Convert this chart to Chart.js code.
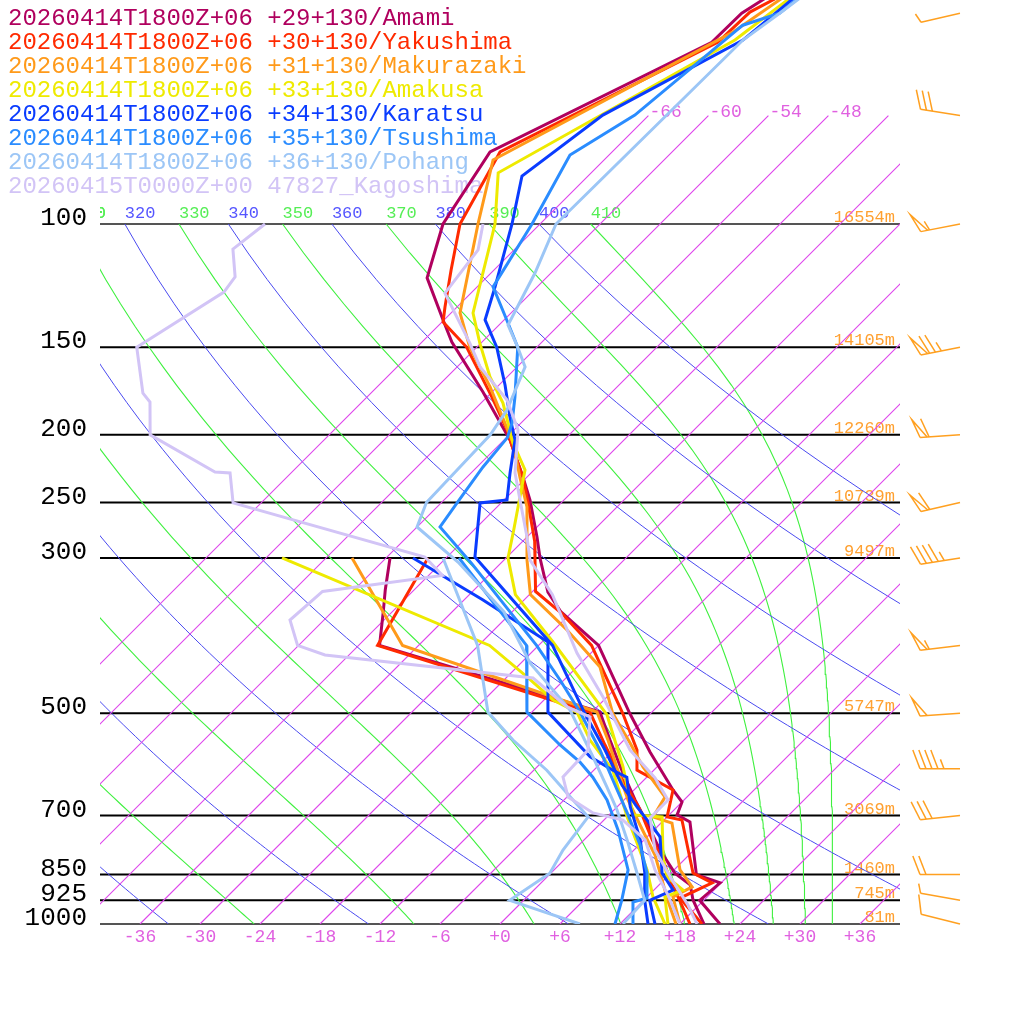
<!DOCTYPE html>
<html>
<head>
<meta charset="utf-8">
<script src="https://cdn.jsdelivr.net/npm/chart.js@4.4.1/dist/chart.umd.min.js"></script>
<style>
  html, body { margin: 0; padding: 0; background: #fff; }
  canvas { display: block; }
</style>
</head>
<body>
<canvas id="skewt" width="1024" height="1024"></canvas>
<script>
// legend / station info
const stationLabels = [
  "20260414T1800Z+06 +29+130/Amami",
  "20260414T1800Z+06 +30+130/Yakushima",
  "20260414T1800Z+06 +31+130/Makurazaki",
  "20260414T1800Z+06 +33+130/Amakusa",
  "20260414T1800Z+06 +34+130/Karatsu",
  "20260414T1800Z+06 +35+130/Tsushima",
  "20260414T1800Z+06 +36+130/Pohang",
  "20260415T0000Z+00 47827_Kagoshima",
];
const stationColors = ["#b0005e", "#ff2a00", "#ff9a1a", "#eeea00", "#0a3cff", "#2a8cff", "#9cc6f6", "#d2c4f6"];

// temperature (degC) and dew point profiles, pressure in hPa
const amamiTempP = [46.6, 50, 55, 78.9, 100, 119.4, 137.1, 147.5, 173.8, 203.5, 229.9, 247.9, 280, 300, 335.6, 358.3, 400, 500, 567.9, 643.5, 669.4, 698.5, 715.1, 850, 873.5, 925, 1000];
const amamiTemp = [-65.7, -66.9, -67.0, -78.2, -75.7, -71.9, -66.1, -63.0, -54.9, -47.4, -42.4, -39.4, -35.0, -32.6, -28.4, -25.1, -18.0, -8.1, -2.2, 3.9, 6.0, 6.8, 8.8, 14.7, 17.9, 17.6, 22.0];
const amamiDewP = [300, 333, 358, 400, 498, 546, 603, 665, 722, 784, 846, 879, 924, 1000];
const amamiDew = [-47.6, -44.9, -42.9, -39.9, -11.2, -7.4, -3.2, 1.1, 4.9, 8.6, 12.4, 15.1, 16.9, 20.4];

const yakushimaTempP = [46.6, 49.8, 55, 78.9, 100, 116.3, 131.4, 138, 150, 176.7, 196.9, 213.8, 229.9, 250.3, 284, 302, 334.9, 359.9, 400, 500, 564.2, 602.6, 643.5, 703.1, 710.4, 845.5, 873.5, 918.1, 1000];
const yakushimaTemp = [-64.4, -66.2, -66.4, -77.2, -74.0, -70.3, -67.2, -65.9, -61.0, -53.5, -48.7, -45.4, -42.4, -39.3, -34.8, -32.9, -29.7, -24.9, -18.7, -8.8, -3.7, -1.7, 3.9, 6.0, 7.8, 14.2, 17.1, 15.4, 20.2];
const yakushimaDewP = [300, 400, 498, 555, 613, 687, 758, 824, 879, 925, 1000];
const yakushimaDew = [-43.8, -40.1, -12.2, -7.4, -2.9, 2.6, 6.8, 10.6, 13.3, 15.6, 19.0];

const makurazakiTempP = [46.6, 53.2, 81, 100, 134, 150, 170.9, 205.5, 229.9, 253.7, 302, 338.4, 380.2, 429.4, 500, 551.2, 596.6, 658.5, 703.1, 717.4, 837.2, 885, 915.1, 1000];
const makurazakiTemp = [-64.1, -65.9, -77.1, -72.2, -65.1, -60.7, -54.7, -46.8, -42.7, -39.0, -33.7, -29.9, -22.7, -15.7, -9.8, -5.1, -1.4, 3.8, 4.6, 7.1, 12.6, 15.5, 14.6, 18.0];
const makurazakiDewP = [300, 400, 498, 546, 603, 665, 722, 797, 865, 925, 1000];
const makurazakiDew = [-51.4, -37.6, -11.5, -7.6, -3.6, 0.4, 4.1, 8.6, 11.8, 14.4, 17.6];

const amakusaTempP = [46.6, 54.6, 84.5, 100, 134, 148, 165.4, 180.2, 205.5, 224.6, 272.8, 300, 338.4, 395.5, 502.8, 596.6, 698.5, 703.1, 802.1, 856.7, 894.2, 915.1, 1000];
const amakusaTemp = [-63.4, -64.9, -75.3, -70.5, -63.8, -60.1, -55.7, -51.8, -46.8, -42.9, -38.1, -35.8, -31.4, -22.9, -10.2, -3.4, 2.4, 5.5, 9.6, 12.0, 14.9, 13.8, 16.8];
const amakusaDewP = [300, 400, 443.7, 478.6, 498, 546, 603, 703, 766, 837, 915, 1000];
const amakusaDew = [-58.4, -28.9, -22.0, -17.1, -13.5, -9.4, -4.1, 2.0, 5.6, 9.3, 12.6, 16.5];

const karatsuTempP = [46.6, 54.6, 69.9, 85.4, 100, 123, 137.1, 150, 169.8, 188.7, 203.5, 226.8, 247.9, 250.3, 299.1, 400, 500, 564.2, 633.1, 680.5, 750.9, 845.5, 894.2, 925, 1000];
const karatsuTemp = [-63.1, -64.1, -70.6, -72.6, -68.8, -64.2, -61.9, -58.0, -53.4, -49.7, -46.9, -44.1, -41.7, -44.1, -39.2, -22.6, -12.6, -6.9, -1.7, 2.0, 7.3, 11.1, 13.9, 12.6, 15.5];
const karatsuDewP = [300, 344.4, 395.5, 498, 577, 603, 617, 680, 758, 846, 925, 1000];
const karatsuDew = [-45.3, -34.1, -23.4, -16.4, -7.7, -4.1, -2.0, 1.3, 5.6, 9.4, 12.1, 14.8];

const tsushimaTempP = [46.6, 50, 52, 69.9, 79.7, 100, 123, 138.5, 150, 176.7, 192.4, 201.9, 222.4, 250.3, 270.9, 305.4, 400, 448.1, 498, 564.2, 633.1, 698.5, 770.9, 845.5, 918.1, 930.3, 1000];
const tsushimaTemp = [-62.6, -63.1, -65.6, -67.4, -69.9, -66.8, -64.4, -59.3, -55.9, -51.2, -48.9, -47.9, -47.4, -46.4, -45.7, -38.9, -24.2, -18.4, -13.2, -7.4, -2.4, 1.9, 6.1, 9.6, 12.1, 11.1, 13.3];
const tsushimaDewP = [300, 400, 498, 555, 587, 617, 665, 734, 837, 925, 1000];
const tsushimaDew = [-40.7, -25.2, -18.5, -11.9, -8.2, -5.4, -1.7, 2.4, 7.4, 9.8, 11.5];

const pohangTempP = [46.6, 50, 54.6, 100, 117.5, 139.4, 150, 160, 184.4, 200, 250, 270.9, 304, 358.3, 423.8, 494.6, 577.3, 637.3, 687.2, 758.3, 845.5, 925, 1000];
const pohangTemp = [-62.4, -63.1, -64.1, -64.4, -61.6, -59.1, -55.9, -53.2, -50.7, -49.9, -49.5, -48.0, -40.4, -30.8, -23.1, -14.4, -7.4, -3.0, 0.3, 4.3, 8.6, 12.1, 12.3];
const pohangDewP = [300, 400, 498, 546, 603, 665, 703, 784, 846, 925, 1000];
const pohangDew = [-42.3, -30.1, -22.4, -17.1, -10.7, -5.1, -1.9, -1.1, -0.1, -1.4, 8.0];

const kagoshimaTempP = [100, 108.9, 125.5, 148, 160, 178.4, 196.9, 226.8, 247.9, 280, 302, 338.4, 410.1, 473.9, 564.2, 618.6, 665, 705.4, 783.8, 865, 939.5, 1000];
const kagoshimaTemp = [-71.7, -69.6, -68.6, -61.1, -57.7, -51.7, -47.6, -43.6, -40.4, -36.0, -33.4, -27.7, -19.4, -12.4, -4.4, 0.9, 4.4, 4.4, 8.1, 12.8, 16.9, 19.7];
const kagoshimaDewP = [100, 108.6, 119, 125.1, 150, 174.4, 179.6, 200.1, 226.1, 226.8, 250.3, 299.1, 317.8, 334.9, 367.9, 400, 412.8, 445.2, 489.6, 506.1, 564.2, 616.6, 658.5, 694, 710.4, 758.3, 837.2, 909.1, 1000];
const kagoshimaDew = [-93.5, -94.2, -91.2, -90.8, -94.0, -88.8, -87.2, -83.9, -73.7, -72.1, -68.8, -44.2, -40.6, -51.0, -51.4, -48.1, -44.4, -21.3, -15.0, -11.7, -8.6, -8.4, -5.9, -1.8, 1.9, 6.1, 10.1, 13.9, 18.0];

// wind barbs (direction deg, speed kt)
const windP = [50, 70, 100, 150, 200, 250, 300, 400, 500, 600, 700, 850, 925, 1000];
const windDir = [257, 279, 259, 259, 266, 257, 261, 263, 266, 270, 264, 270, 280, 284];
const windSpd = [5, 30, 55, 75, 60, 60, 45, 55, 50, 45, 30, 20, 5, 10];

// labelled pressure levels and their heights
const levelP = [100, 150, 200, 250, 300, 500, 700, 850, 925, 1000];
const levelHeight = ["16554m", "14105m", "12260m", "10739m", "9497m", "5747m", "3069m", "1460m", "745m", "81m"];

// reference lines
const tempTicks = [-36, -30, -24, -18, -12, -6, 0, 6, 12, 18, 24, 30, 36];
const isothermValues = [-66, -60, -54, -48, -42, -36, -30, -24, -18, -12, -6, 0, 6, 12, 18, 24, 30, 36];
const isothermLabels = [-66, -60, -54, -48];
const dryThetas = [240, 260, 280, 300, 320, 340, 360, 380, 400];
const moistThetas = [250, 270, 290, 310, 330, 350, 370, 390, 410];

const SKEW = 70;
const PMIN = 1000 * Math.pow(10, -1.32);
const skewX = (t, p) => t + SKEW * Math.log10(1000 / p);

function profile(pres, temps) {
  return pres.map((p, i) => ({ x: skewX(temps[i], p), y: p }));
}

function thetaE(tk, p) {
  const tc = tk - 273.15;
  const es = 6.112 * Math.exp(17.67 * tc / (tc + 243.5));
  if (es > 0.2 * p) return Infinity;
  const r = 622 * es / (p - es);
  return tk * Math.pow(1000 / p, 0.2854 * (1 - 0.00028 * r)) *
    Math.exp((3.376 / tk - 0.00254) * r * (1 + 0.00081 * r));
}
function moistT(theta, p) {
  let lo = 150, hi = 330;
  for (let i = 0; i < 50; i++) {
    const mid = (lo + hi) / 2;
    if (thetaE(mid, p) > theta) hi = mid; else lo = mid;
  }
  return (lo + hi) / 2 - 273.15;
}
const dryT = (theta, p) => theta * Math.pow(p / 1000, 0.286) - 273.15;

const curveLevels = [];
for (let p = 1000; p >= 100; p -= 10) curveLevels.push(p);

const datasets = [];
isothermValues.forEach((t) => {
  datasets.push({
    data: [{ x: skewX(t, 1000), y: 1000 }, { x: skewX(t, 70), y: 70 }],
    borderColor: "rgb(222,70,236)", borderWidth: 1.15, order: 100,
  });
});
dryThetas.forEach((th) => {
  datasets.push({
    data: curveLevels.map((p) => ({ x: skewX(dryT(th, p), p), y: p })),
    borderColor: "#4a4af0", borderWidth: 1, order: 100,
  });
});
moistThetas.forEach((th) => {
  datasets.push({
    data: curveLevels.map((p) => ({ x: skewX(moistT(th, p), p), y: p })),
    borderColor: "#3ff03f", borderWidth: 1.1, order: 100,
  });
});

const profiles = [
  [amamiTempP, amamiTemp, amamiDewP, amamiDew],
  [yakushimaTempP, yakushimaTemp, yakushimaDewP, yakushimaDew],
  [makurazakiTempP, makurazakiTemp, makurazakiDewP, makurazakiDew],
  [amakusaTempP, amakusaTemp, amakusaDewP, amakusaDew],
  [karatsuTempP, karatsuTemp, karatsuDewP, karatsuDew],
  [tsushimaTempP, tsushimaTemp, tsushimaDewP, tsushimaDew],
  [pohangTempP, pohangTemp, pohangDewP, pohangDew],
  [kagoshimaTempP, kagoshimaTemp, kagoshimaDewP, kagoshimaDew],
];
profiles.forEach((pr, i) => {
  datasets.push({ data: profile(pr[2], pr[3]), borderColor: stationColors[i], borderWidth: 3, order: 20 - 2 * i });
  datasets.push({ data: profile(pr[0], pr[1]), borderColor: stationColors[i], borderWidth: 3, order: 19 - 2 * i });
});
datasets.forEach((d) => { d.showLine = true; d.pointRadius = 0; d.fill = false; d.tension = 0; });

const fmtTemp = (t) => (t < 0 ? String(t) : "+" + t);

function drawBarb(ctx, x0, y0, dir, spd) {
  const a = dir * Math.PI / 180;
  const ux = Math.sin(a), uy = -Math.cos(a);
  const b = 69 * Math.PI / 180;
  const fx = Math.cos(b) * ux - Math.sin(b) * uy;
  const fy = Math.sin(b) * ux + Math.cos(b) * uy;
  const len = 40, flen = 20;
  ctx.beginPath();
  ctx.moveTo(x0, y0);
  ctx.lineTo(x0 + len * ux, y0 + len * uy);
  ctx.stroke();
  let s = Math.round(spd / 5) * 5;
  let d = len;
  while (s >= 50) {
    const bx = x0 + d * ux, by = y0 + d * uy;
    ctx.beginPath();
    ctx.moveTo(bx, by);
    ctx.lineTo(bx + flen * fx, by + flen * fy);
    ctx.lineTo(x0 + (d - 7) * ux, y0 + (d - 7) * uy);
    ctx.stroke();
    d -= 9; s -= 50;
  }
  while (s >= 10) {
    const bx = x0 + d * ux, by = y0 + d * uy;
    ctx.beginPath();
    ctx.moveTo(bx, by);
    ctx.lineTo(bx + flen * fx, by + flen * fy);
    ctx.stroke();
    d -= 6; s -= 10;
  }
  if (s >= 5) {
    const bx = x0 + d * ux, by = y0 + d * uy;
    ctx.beginPath();
    ctx.moveTo(bx, by);
    ctx.lineTo(bx + flen * 0.5 * fx, by + flen * 0.5 * fy);
    ctx.stroke();
  }
}

const decorPlugin = {
  id: "decor",
  beforeDatasetsDraw(chart) {
    const { ctx, chartArea, scales: { x, y } } = chart;
    ctx.save();
    // pressure lines
    levelP.forEach((p) => {
      const py = y.getPixelForValue(p);
      ctx.strokeStyle = p === 100 || p === 1000 ? "#555" : "#000";
      ctx.lineWidth = 2;
      ctx.beginPath();
      ctx.moveTo(chartArea.left, py);
      ctx.lineTo(chartArea.right, py);
      ctx.stroke();
    });
    // pressure labels
    ctx.font = "26px 'Liberation Mono'";
    ctx.fillStyle = "#000";
    ctx.textAlign = "right";
    ctx.textBaseline = "alphabetic";
    levelP.forEach((p) => ctx.fillText(String(p), 87, y.getPixelForValue(p) + 1));
    // heights
    ctx.font = "17px 'Liberation Mono'";
    ctx.fillStyle = "#ffa030";
    levelP.forEach((p, i) => ctx.fillText(levelHeight[i], chartArea.right - 5, y.getPixelForValue(p) - 2));
    // temperature ticks
    ctx.font = "18px 'Liberation Mono'";
    ctx.fillStyle = "#e060e0";
    ctx.textAlign = "center";
    ctx.textBaseline = "middle";
    tempTicks.forEach((t) => ctx.fillText(fmtTemp(t), x.getPixelForValue(skewX(t, 1000)), chartArea.bottom + 13));
    // isotherm labels
    ctx.textAlign = "left";
    ctx.textBaseline = "alphabetic";
    isothermLabels.forEach((t) => ctx.fillText(fmtTemp(t), x.getPixelForValue(skewX(t, 70)) + 1, y.getPixelForValue(70) + 1));
    // theta labels
    ctx.beginPath();
    ctx.rect(chartArea.left, 0, chartArea.width, chart.height);
    ctx.clip();
    ctx.font = "17px 'Liberation Mono'";
    const y100 = y.getPixelForValue(100) - 6;
    [310].concat(dryThetas, moistThetas).forEach((th) => {
      const isDry = dryThetas.includes(th);
      const t = isDry ? dryT(th, 100) : moistT(th, 100);
      ctx.fillStyle = isDry ? "#5555ff" : "#55ee55";
      ctx.fillText(String(th), x.getPixelForValue(skewX(t, 100)), y100);
    });
    ctx.restore();
    // legend
    ctx.save();
    ctx.font = "24px 'Liberation Mono'";
    ctx.textAlign = "left";
    ctx.textBaseline = "alphabetic";
    stationLabels.forEach((s, i) => {
      ctx.fillStyle = stationColors[i];
      ctx.fillText(s, 8, 25 + 24 * i);
    });
    ctx.restore();
  },
  afterDatasetsDraw(chart) {
    const { ctx, chartArea, scales: { y } } = chart;
    ctx.save();
    ctx.strokeStyle = "#ffa020";
    ctx.lineWidth = 1.5;
    windP.forEach((p, i) => drawBarb(ctx, chartArea.right + 60, y.getPixelForValue(p), windDir[i], windSpd[i]));
    ctx.restore();
  },
};

new Chart(document.getElementById("skewt"), {
  type: "scatter",
  data: { datasets },
  options: {
    responsive: false,
    animation: false,
    devicePixelRatio: 1,
    layout: { padding: { left: 100, right: 124, top: 0, bottom: 100 } },
    scales: {
      x: { type: "linear", min: -40, max: 40, display: false },
      y: { type: "logarithmic", min: PMIN, max: 1000, reverse: true, display: false },
    },
    plugins: {
      legend: { display: false },
      tooltip: { enabled: false },
    },
  },
  plugins: [decorPlugin],
});
</script>
</body>
</html>
